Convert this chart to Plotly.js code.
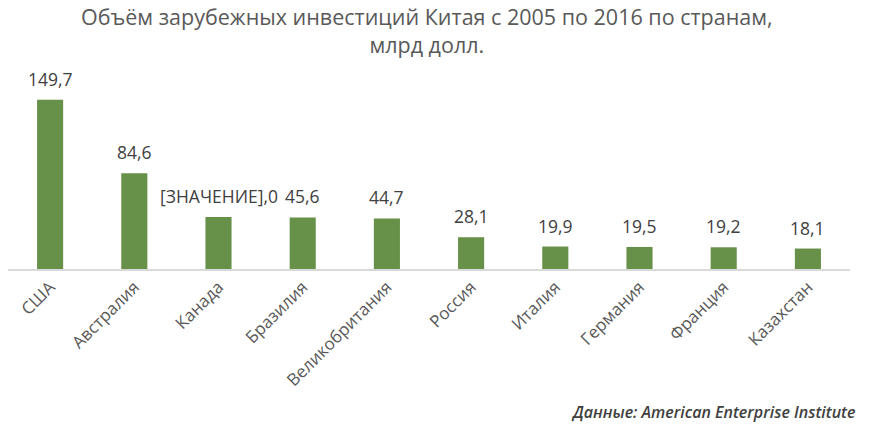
<!DOCTYPE html>
<html>
<head>
<meta charset="utf-8">
<script src="https://cdn.plot.ly/plotly-3.0.1.min.js"></script>
<style>html,body{margin:0;padding:0;background:#fff;}#chart{width:876px;height:435px;}</style>
</head>
<body>
<div id="chart"></div>
<script>
const countries = ['США','Австралия','Канада','Бразилия','Великобритания','Россия','Италия','Германия','Франция','Казахстан'];
const values = [149.7, 84.6, 46.0, 45.6, 44.7, 28.1, 19.9, 19.5, 19.2, 18.1];
const valueLabels = ['149,7','84,6','[ЗНАЧЕНИЕ],0','45,6','44,7','28,1','19,9','19,5','19,2','18,1'];

const FONT = '"Open Sans", "Noto Sans", sans-serif';

const trace = {
  type: 'bar',
  x: countries,
  y: values,
  marker: {color: '#679049'},
  width: 0.31,
  hoverinfo: 'none'
};

const labelAnns = countries.map((c, i) => ({
  x: c, y: values[i], xref: 'x', yref: 'y',
  text: valueLabels[i], showarrow: false,
  xanchor: 'center', yanchor: 'bottom', yshift: 7,
  font: {family: FONT, size: 17.5, color: '#404040'}
}));

const layout = {
  width: 876, height: 435,
  margin: {l: 8, r: 26, t: 70, b: 166},
  paper_bgcolor: '#fff', plot_bgcolor: '#fff',
  showlegend: false,
  xaxis: {
    tickangle: -45,
    tickfont: {family: FONT, size: 17, color: '#595959'},
    showline: true, linecolor: '#d9d9d9', linewidth: 1.5,
    ticks: '', showgrid: false, zeroline: false
  },
  yaxis: {
    range: [0, 176],
    visible: false, showgrid: false, zeroline: false
  },
  annotations: labelAnns.concat([
    {
      text: 'Объём зарубежных инвестиций Китая с 2005 по 2016 по странам,<br>млрд долл.',
      xref: 'paper', yref: 'paper', x: 0.498, y: 1.2,
      xanchor: 'center', yanchor: 'middle', showarrow: false,
      font: {family: FONT, size: 21.5, color: '#595959'}
    },
    {
      text: '<i>Данные: American Enterprise Institute</i>',
      xref: 'paper', yref: 'paper', x: 1.0083, y: -0.7186,
      xanchor: 'right', yanchor: 'middle', showarrow: false,
      font: {family: FONT, size: 16, color: '#404040', weight: 600}
    }
  ])
};

Plotly.newPlot('chart', [trace], layout, {staticPlot: true});
</script>
</body>
</html>
